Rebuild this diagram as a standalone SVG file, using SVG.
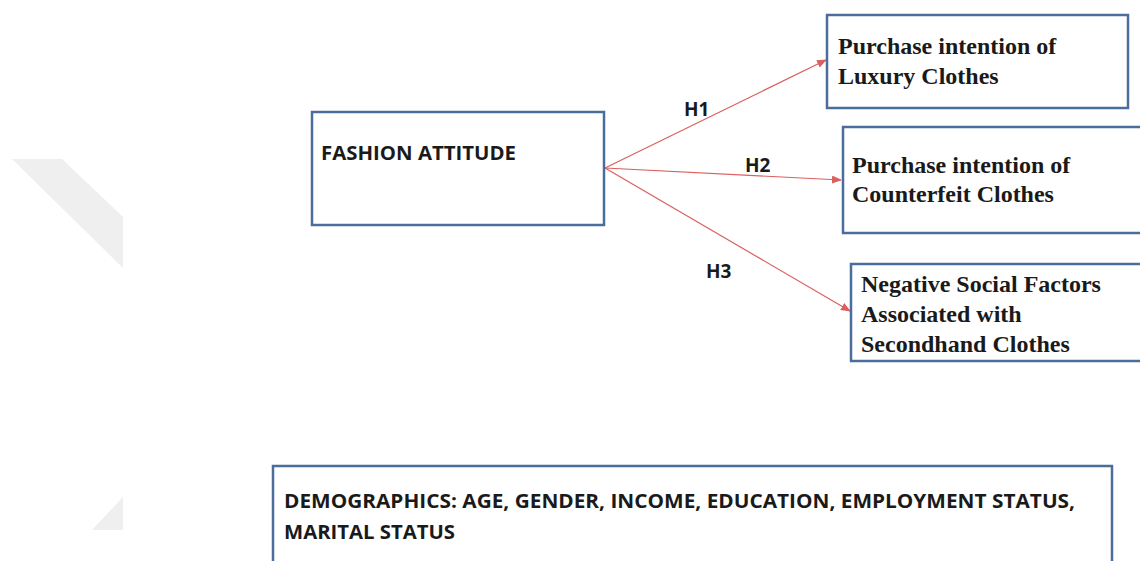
<svg xmlns="http://www.w3.org/2000/svg" width="1140" height="561" viewBox="0 0 1140 561">
<defs>
<style>
.box{fill:#fff;stroke:#4A6D9C;stroke-width:2.5}
.serif{font-family:"Liberation Serif","Times New Roman",serif;font-weight:bold;font-size:24px;fill:#1a1a1a}
.sans{font-family:"Open Sans","Liberation Sans",sans-serif;font-weight:bold;font-size:20px;fill:#1a1a1a}
.lbl{font-family:"Open Sans","Liberation Sans",sans-serif;font-weight:bold;font-size:19px;fill:#1a1a1a}
.conn{stroke:#D9605E;stroke-width:1.2;fill:none;marker-end:url(#ah)}
</style>
<marker id="ah" markerUnits="userSpaceOnUse" markerWidth="10" markerHeight="8" refX="9" refY="4" orient="auto">
<path d="M0,0 L10,4 L0,8 z" fill="#D9605E"/>
</marker>
</defs>
<rect width="1140" height="561" fill="#fff"/>
<g id="watermark" fill="#efefef">
<polygon points="12,159 62,159 123,217 123,268"/>
<polygon points="123,497 123,530 92,530"/>
</g>
<g id="connectors">
<line class="conn" x1="605" y1="168" x2="826" y2="60"/>
<line class="conn" x1="605" y1="168" x2="841" y2="180"/>
<line class="conn" x1="605" y1="168" x2="850" y2="311"/>
<text class="lbl" x="684" y="116">H1</text>
<text class="lbl" x="745" y="172">H2</text>
<text class="lbl" x="706" y="278">H3</text>
</g>
<g id="fashion">
<rect class="box" x="312" y="112" width="292" height="113"/>
<text class="sans" x="321" y="160" textLength="195" lengthAdjust="spacingAndGlyphs">FASHION ATTITUDE</text>
</g>
<g id="luxury">
<rect class="box" x="827" y="15" width="301" height="93"/>
<text class="serif" x="838" y="54">Purchase intention of</text>
<text class="serif" x="838" y="84">Luxury Clothes</text>
</g>
<g id="counterfeit">
<rect class="box" x="843" y="127" width="310" height="106"/>
<text class="serif" x="852" y="173">Purchase intention of</text>
<text class="serif" x="852" y="202">Counterfeit Clothes</text>
</g>
<g id="secondhand">
<rect class="box" x="851" y="264" width="300" height="97"/>
<text class="serif" x="861" y="292">Negative Social Factors</text>
<text class="serif" x="861" y="322">Associated with</text>
<text class="serif" x="861" y="352">Secondhand Clothes</text>
</g>
<g id="demographics">
<rect class="box" x="273" y="466" width="839" height="110"/>
<text class="sans" x="284" y="508" textLength="791" lengthAdjust="spacingAndGlyphs">DEMOGRAPHICS: AGE, GENDER, INCOME, EDUCATION, EMPLOYMENT STATUS,</text>
<text class="sans" x="284" y="539" textLength="171" lengthAdjust="spacingAndGlyphs">MARITAL STATUS</text>
</g>
</svg>
